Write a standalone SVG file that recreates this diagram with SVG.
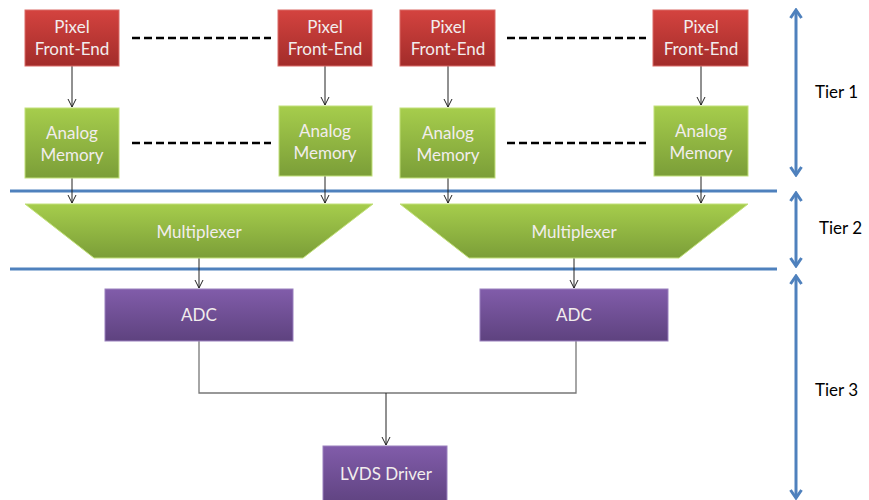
<svg xmlns="http://www.w3.org/2000/svg" width="869" height="500" viewBox="0 0 869 500">
<style>
  .lbl { font-family: Lato, "Open Sans", "Liberation Sans", sans-serif; font-size: 17px; fill: #F2EDED; text-anchor: middle; }
  .tier { font-family: Lato, "Open Sans", "Liberation Sans", sans-serif; font-size: 17px; fill: #000; }
  .red { fill: url(#gRed); stroke: #D96A66; stroke-width: 1; }
  .green { fill: url(#gGreen); stroke: #C2E07A; stroke-width: 1; }
  .purple { fill: url(#gPurple); stroke: #9A80BE; stroke-width: 1; }
  .arr { stroke: #222; stroke-width: 1; fill: none; marker-end: url(#ah); }
  .wire { stroke: #777; stroke-width: 1.3; fill: none; }
  .dash { stroke: #000; stroke-width: 2.3; stroke-dasharray: 8 4; fill: none; }
  .sep { stroke: #4F81BD; stroke-width: 3; fill: none; }
  .tierarr { stroke: #4F81BD; stroke-width: 3; fill: none; marker-start: url(#bh); marker-end: url(#bh); }
</style>
<defs>
  <linearGradient id="gRed" x1="0" y1="0" x2="0" y2="1">
    <stop offset="0" stop-color="#D4433F"/>
    <stop offset="1" stop-color="#A22C2A"/>
  </linearGradient>
  <linearGradient id="gGreen" x1="0" y1="0" x2="0" y2="1">
    <stop offset="0" stop-color="#A6CD4C"/>
    <stop offset="1" stop-color="#7B9E38"/>
  </linearGradient>
  <linearGradient id="gPurple" x1="0" y1="0" x2="0" y2="1">
    <stop offset="0" stop-color="#815CAA"/>
    <stop offset="1" stop-color="#5E427F"/>
  </linearGradient>
  <marker id="ah" viewBox="0 0 10 10" refX="8" refY="5" markerWidth="10" markerHeight="10" markerUnits="userSpaceOnUse" orient="auto">
    <path d="M0,1 L8,5 L0,9" fill="none" stroke="#222" stroke-width="1"/>
  </marker>
  <marker id="bh" viewBox="0 0 12 14" refX="10" refY="7" markerWidth="12" markerHeight="14" markerUnits="userSpaceOnUse" orient="auto-start-reverse">
    <path d="M2,1.5 L10,7 L2,12.5" fill="none" stroke="#4F81BD" stroke-width="3"/>
  </marker>
</defs>

<g id="separators">
  <line class="sep" x1="10" y1="191" x2="777" y2="191"/>
  <line class="sep" x1="10" y1="269" x2="777" y2="269"/>
</g>

<g id="connectors">
  <line class="arr" x1="72" y1="66" x2="72" y2="107"/>
  <line class="arr" x1="325" y1="66" x2="325" y2="105"/>
  <line class="arr" x1="448" y1="66" x2="448" y2="107"/>
  <line class="arr" x1="701" y1="66" x2="701" y2="105"/>
  <line class="arr" x1="72" y1="178" x2="72" y2="203"/>
  <line class="arr" x1="325" y1="176" x2="325" y2="203"/>
  <line class="arr" x1="448" y1="178" x2="448" y2="203"/>
  <line class="arr" x1="701" y1="176" x2="701" y2="203"/>
  <line class="arr" x1="199" y1="258" x2="199" y2="288"/>
  <line class="arr" x1="574" y1="258" x2="574" y2="288"/>
  <polyline class="wire" points="199,341 199,393 576,393 576,341"/>
  <line class="arr" x1="386" y1="393" x2="386" y2="445"/>
  <line class="dash" x1="132" y1="38" x2="271" y2="38"/>
  <line class="dash" x1="132" y1="143" x2="271" y2="143"/>
  <line class="dash" x1="507" y1="38" x2="646" y2="38"/>
  <line class="dash" x1="507" y1="143" x2="646" y2="143"/>
</g>

<g id="pfe1"><rect class="red" x="25" y="10" width="94" height="56"/>
  <text class="lbl" x="72" y="33">Pixel</text><text class="lbl" x="72" y="55">Front-End</text></g>
<g id="pfe2"><rect class="red" x="278" y="10" width="94" height="56"/>
  <text class="lbl" x="325" y="33">Pixel</text><text class="lbl" x="325" y="55">Front-End</text></g>
<g id="pfe3"><rect class="red" x="400" y="10" width="95" height="56"/>
  <text class="lbl" x="448" y="33">Pixel</text><text class="lbl" x="448" y="55">Front-End</text></g>
<g id="pfe4"><rect class="red" x="653" y="10" width="95" height="56"/>
  <text class="lbl" x="701" y="33">Pixel</text><text class="lbl" x="701" y="55">Front-End</text></g>

<g id="am1"><rect class="green" x="25" y="108" width="94" height="70"/>
  <text class="lbl" x="72" y="139">Analog</text><text class="lbl" x="72" y="161">Memory</text></g>
<g id="am2"><rect class="green" x="279" y="106" width="93" height="70"/>
  <text class="lbl" x="325" y="137">Analog</text><text class="lbl" x="325" y="159">Memory</text></g>
<g id="am3"><rect class="green" x="400" y="108" width="95" height="70"/>
  <text class="lbl" x="448" y="139">Analog</text><text class="lbl" x="448" y="161">Memory</text></g>
<g id="am4"><rect class="green" x="654" y="106" width="94" height="70"/>
  <text class="lbl" x="701" y="137">Analog</text><text class="lbl" x="701" y="159">Memory</text></g>

<g id="mux1"><polygon class="green" points="25,204 373,204 303,258 94,258"/>
  <text class="lbl" x="199" y="238">Multiplexer</text></g>
<g id="mux2"><polygon class="green" points="400,204 748,204 679,258 469,258"/>
  <text class="lbl" x="574" y="238">Multiplexer</text></g>

<g id="adc1"><rect class="purple" x="105" y="289" width="188" height="52"/>
  <text class="lbl" x="199" y="321">ADC</text></g>
<g id="adc2"><rect class="purple" x="480" y="289" width="188" height="52"/>
  <text class="lbl" x="574" y="321">ADC</text></g>

<g id="lvds"><rect class="purple" x="323" y="446" width="124" height="60"/>
  <text class="lbl" x="386" y="480">LVDS Driver</text></g>

<g id="tiers">
  <line class="tierarr" x1="796" y1="10" x2="796" y2="175"/>
  <line class="tierarr" x1="796" y1="193" x2="796" y2="266"/>
  <line class="tierarr" x1="796" y1="276" x2="796" y2="498"/>
  <text class="tier" x="815" y="98">Tier 1</text>
  <text class="tier" x="819" y="234">Tier 2</text>
  <text class="tier" x="815" y="396">Tier 3</text>
</g>
</svg>
